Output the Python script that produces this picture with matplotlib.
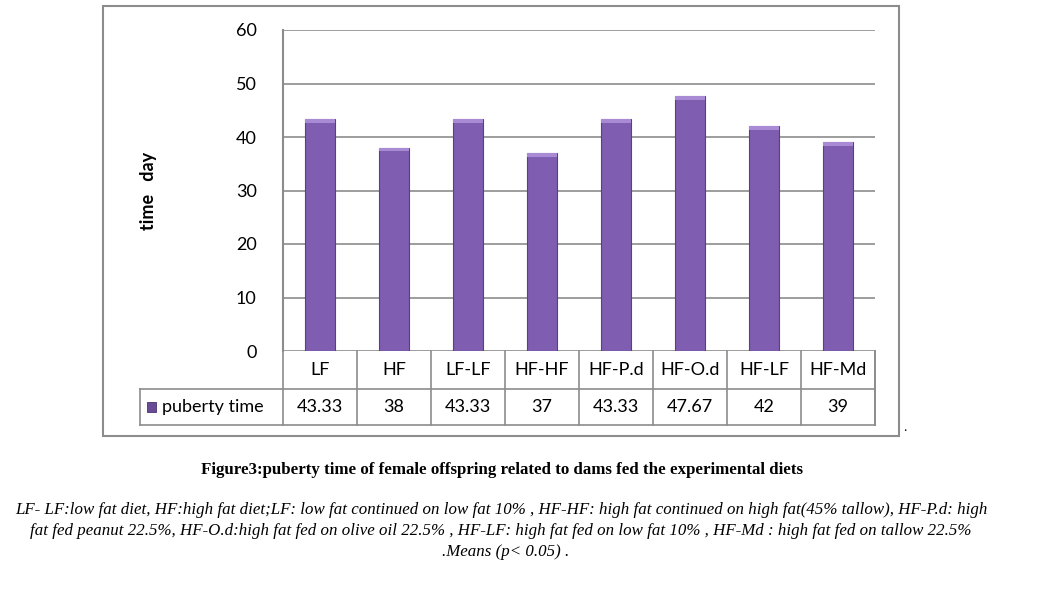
import matplotlib
matplotlib.use('Agg')
from matplotlib import pyplot as plt
from matplotlib.patches import Rectangle

groups = ['LF', 'HF', 'LF-LF', 'HF-HF', 'HF-P.d', 'HF-O.d', 'HF-LF', 'HF-Md']
puberty_time = [43.33, 38, 43.33, 37, 43.33, 47.67, 42, 39]
series_name = 'puberty time'
y_ticks = [0, 10, 20, 30, 40, 50, 60]

caption = 'Figure3:puberty time of female offspring related to dams fed the experimental diets'
notes = [
    'LF- LF:low fat diet, HF:high fat diet;LF: low fat continued on low fat 10% , HF-HF: high fat continued on high fat(45% tallow), HF-P.d: high',
    'fat fed peanut 22.5%, HF-O.d:high fat fed on olive oil 22.5% , HF-LF: high fat fed on low fat 10% , HF-Md : high fat fed on tallow 22.5%',
    '.Means (p< 0.05) .',
]

plt.rcParams['font.family'] = ['Lato', 'DejaVu Sans']

fig = plt.figure(figsize=(10.38, 5.96), dpi=100)
W, H = 1038, 596

# outer chart frame
fig.patches.append(Rectangle((103 / W, 1 - 436 / H), 796 / W, 430 / H, transform=fig.transFigure,
                             fill=False, edgecolor='#8c8c8c', linewidth=1.5))

ax = fig.add_axes([283 / W, 1 - 351 / H, 592 / W, 321 / H])
x = range(len(groups))
purple = '#7f5db0'
ax.bar(x, puberty_time, width=0.41, color=purple, edgecolor='#5a3f82', linewidth=0.8, zorder=3)
# light bevel at the top of each bar
ax.bar(x, [0.7] * len(groups), bottom=[v - 0.7 for v in puberty_time], width=0.41,
       color='#a98ad4', edgecolor='none', zorder=4)

ax.set_xlim(-0.5, len(groups) - 0.5)
ax.set_ylim(0, 60)
ax.set_yticks(y_ticks)
ax.set_yticklabels([str(t) for t in y_ticks], fontsize=13)
ax.tick_params(axis='y', length=0, pad=19)
ax.set_xticks([])
ax.yaxis.grid(True, color='#8c8c8c', linewidth=1.2, zorder=0)
for s in ['top', 'right', 'bottom']:
    ax.spines[s].set_visible(False)
ax.spines['left'].set_color('#8c8c8c')
ax.spines['left'].set_linewidth(1.5)
ax.set_ylabel('time   day', fontsize=13, fontweight='bold', labelpad=57)

# data table under the plot
tr = ax.get_xaxis_transform()
r1 = -38 / 321
r2 = -74 / 321
left = -0.5 - 143 / 74
n = len(groups)
lc = '#8c8c8c'
lw = 1.2
ax.plot([-0.5, n - 0.5], [r1, r1], color=lc, lw=lw, transform=tr, clip_on=False)
ax.plot([left, n - 0.5], [r2, r2], color=lc, lw=lw, transform=tr, clip_on=False)
ax.plot([left, -0.5], [r1, r1], color=lc, lw=lw, transform=tr, clip_on=False)
ax.plot([left, left], [r1, r2], color=lc, lw=lw, transform=tr, clip_on=False)
ax.plot([-0.5, -0.5], [0, r2], color=lc, lw=lw, transform=tr, clip_on=False)
for i in range(n):
    ax.plot([i + 0.5, i + 0.5], [0, r2], color=lc, lw=lw, transform=tr, clip_on=False)
    ax.text(i, r1 / 2, groups[i], ha='center', va='center', fontsize=13, transform=tr)
    ax.text(i, (r1 + r2) / 2, f'{puberty_time[i]:g}', ha='center', va='center', fontsize=13, transform=tr)
ax.plot([n - 0.5, n - 0.5], [0, r2], color=lc, lw=lw, transform=tr, clip_on=False)
ax.add_patch(Rectangle((left + 0.1, (r1 + r2) / 2 - 0.015), 0.12, 0.03, transform=tr,
                       facecolor='#6a4b96', edgecolor='#4a3370', lw=0.6, clip_on=False))
ax.text(left + 0.3, (r1 + r2) / 2, series_name, ha='left', va='center', fontsize=13, transform=tr)

fig.text(903 / W, 1 - 434 / H, '.', fontsize=10, family='Liberation Serif', ha='left', va='bottom')

fig.text(502 / W, 1 - 470 / H, caption, ha='center', va='center', fontsize=12.2,
         family='Liberation Serif', fontweight='bold')
fig.text(15 / W, 1 - 510 / H, notes[0], ha='left', va='center', fontsize=12.2,
         family='Liberation Serif', style='italic')
fig.text(30 / W, 1 - 531 / H, notes[1], ha='left', va='center', fontsize=12.2,
         family='Liberation Serif', style='italic')
fig.text(506 / W, 1 - 552 / H, notes[2], ha='center', va='center', fontsize=12.2,
         family='Liberation Serif', style='italic')

fig.savefig('out.png', dpi=100)
